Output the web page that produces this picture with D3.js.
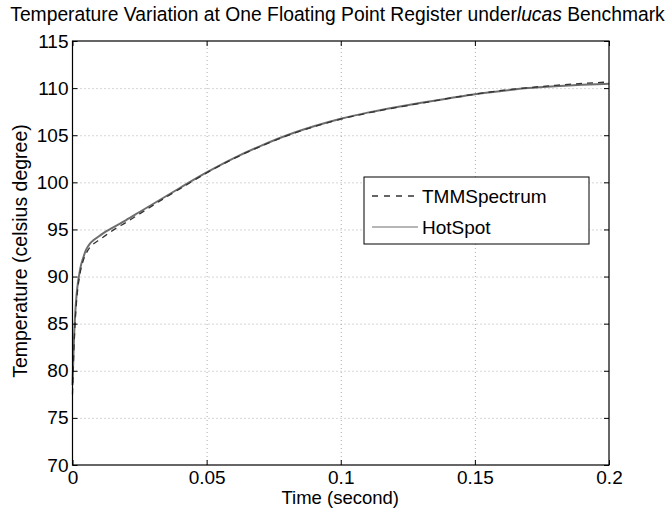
<!DOCTYPE html>
<html><head><meta charset="utf-8">
<script src="https://cdn.jsdelivr.net/npm/d3@7"></script>
<style>
body{margin:0;background:#fff;}
svg{display:block;font-family:"Liberation Sans",Arial,Helvetica,sans-serif;}
</style></head>
<body><svg id="c" width="671" height="508"></svg>
<script>
const time = [0, 0.0005, 0.001, 0.0015, 0.002, 0.0025, 0.003, 0.004, 0.005, 0.0065, 0.008, 0.01, 0.0125, 0.015, 0.02, 0.025, 0.03, 0.035, 0.04, 0.05, 0.06, 0.07, 0.08, 0.09, 0.1, 0.11, 0.12, 0.13, 0.14, 0.15, 0.16, 0.17, 0.18, 0.19, 0.2];
const hotSpot = [78.5, 83.0, 86.0, 88.0, 89.3, 90.2, 91.0, 92.0, 92.8, 93.5, 93.9, 94.3, 94.8, 95.2, 96.0, 96.85, 97.7, 98.55, 99.4, 101.05, 102.55, 103.85, 105.0, 105.95, 106.75, 107.4, 107.95, 108.45, 108.9, 109.35, 109.7, 110.0, 110.2, 110.35, 110.45];
const tmmSpectrum = [77.5, 82.0, 85.2, 87.3, 88.8, 89.8, 90.6, 91.7, 92.4, 93.1, 93.5, 93.9, 94.4, 94.9, 95.75, 96.65, 97.55, 98.45, 99.3, 101.0, 102.5, 103.8, 104.95, 105.9, 106.7, 107.35, 107.9, 108.4, 108.9, 109.35, 109.75, 110.05, 110.3, 110.5, 110.65];
const xTicks = [0, 0.05, 0.1, 0.15, 0.2];
const xTickLabels = ["0", "0.05", "0.1", "0.15", "0.2"];
const yTicks = [70, 75, 80, 85, 90, 95, 100, 105, 110, 115];
const seriesNames = ["TMMSpectrum", "HotSpot"];

(function(){
const svg = d3.select("#c");
const L = 72.5, R = 609, T = 41, B = 465;
const x = d3.scaleLinear().domain([0, 0.2]).range([L, R]);
const y = d3.scaleLinear().domain([70, 115]).range([B, T]);
const W = R - L, H = B - T;

// grid
const grid = svg.append("g").attr("class", "grid");
grid.append("g").attr("transform", `translate(0,${B})`)
  .call(d3.axisBottom(x).tickValues(xTicks.slice(1, -1)).tickSize(-H).tickFormat(""));
grid.append("g").attr("transform", `translate(${L},0)`)
  .call(d3.axisLeft(y).tickValues(yTicks.slice(1, -1)).tickSize(-W).tickFormat(""));
grid.selectAll(".domain").remove();
grid.selectAll("line").attr("stroke", "#999").attr("stroke-width", 0.8).attr("stroke-dasharray", "1,3");

// lines
const line = d3.line().x((d, i) => x(time[i])).y(d => y(d)).curve(d3.curveMonotoneX);
svg.append("path").datum(hotSpot).attr("d", line).attr("fill", "none")
  .attr("stroke", "#6e6e6e").attr("stroke-width", 2);
svg.append("path").datum(tmmSpectrum).attr("d", line).attr("fill", "none")
  .attr("stroke", "#333").attr("stroke-width", 1.3).attr("stroke-dasharray", "6,5");

// axes
const fs = 19;
const ax = svg.append("g");
const axB = ax.append("g").attr("transform", `translate(0,${B})`)
  .call(d3.axisBottom(x).tickValues(xTicks).tickFormat((d, i) => xTickLabels[i]).tickSizeInner(-5).tickSizeOuter(0).tickPadding(3));
ax.append("g").attr("transform", `translate(${L},0)`)
  .call(d3.axisLeft(y).tickValues(yTicks).tickFormat(d3.format("d")).tickSizeInner(-5).tickSizeOuter(0).tickPadding(4));
ax.append("g").attr("transform", `translate(0,${T})`)
  .call(d3.axisTop(x).tickValues(xTicks).tickFormat("").tickSizeInner(-5).tickSizeOuter(0));
ax.append("g").attr("transform", `translate(${R},0)`)
  .call(d3.axisRight(y).tickValues(yTicks).tickFormat("").tickSizeInner(-5).tickSizeOuter(0));
ax.selectAll(".domain").remove();
ax.selectAll("line").attr("stroke", "#000");
ax.selectAll("text").attr("fill", "#000").attr("font-size", fs).attr("font-family", "Liberation Sans, Arial, sans-serif");
axB.selectAll("text").attr("dy", "0.85em");
svg.append("rect").attr("x", L).attr("y", T).attr("width", W).attr("height", H)
  .attr("fill", "none").attr("stroke", "#000").attr("stroke-width", 1.2);

// axis labels
svg.append("text").attr("x", (L + R) / 2 - 0.5).attr("y", 504).attr("text-anchor", "middle")
  .attr("font-size", 18.5).text("Time (second)");
svg.append("text").attr("transform", `translate(27,${(T + B) / 2 - 2}) rotate(-90)`)
  .attr("text-anchor", "middle").attr("font-size", 19.5).text("Temperature (celsius degree)");

// title
const title = svg.append("text").attr("x", 337.5).attr("y", 21).attr("text-anchor", "middle").attr("font-size", 17);
title.append("tspan").text("Temperature Variation at One Floating Point Register under");
title.append("tspan").attr("font-style", "italic").text("lucas");
title.append("tspan").text(" Benchmark");
const tw = title.node().getComputedTextLength();
title.attr("font-size", 17 * 655 / tw);

// legend
const lg = svg.append("g");
lg.append("rect").attr("x", 364).attr("y", 177).attr("width", 225).attr("height", 67)
  .attr("fill", "#fff").attr("stroke", "#000").attr("stroke-width", 1);
const rows = [{name: seriesNames[0], dash: "6,6", color: "#333", w: 1.3, yy: 196},
              {name: seriesNames[1], dash: null, color: "#6e6e6e", w: 1.2, yy: 227}];
rows.forEach(r => {
  lg.append("line").attr("x1", 372).attr("x2", 418).attr("y1", r.yy).attr("y2", r.yy)
    .attr("stroke", r.color).attr("stroke-width", r.w).attr("stroke-dasharray", r.dash);
  lg.append("text").attr("x", 422).attr("y", r.yy).attr("dy", "0.35em").attr("font-size", fs).text(r.name);
});
})();
</script></body></html>
